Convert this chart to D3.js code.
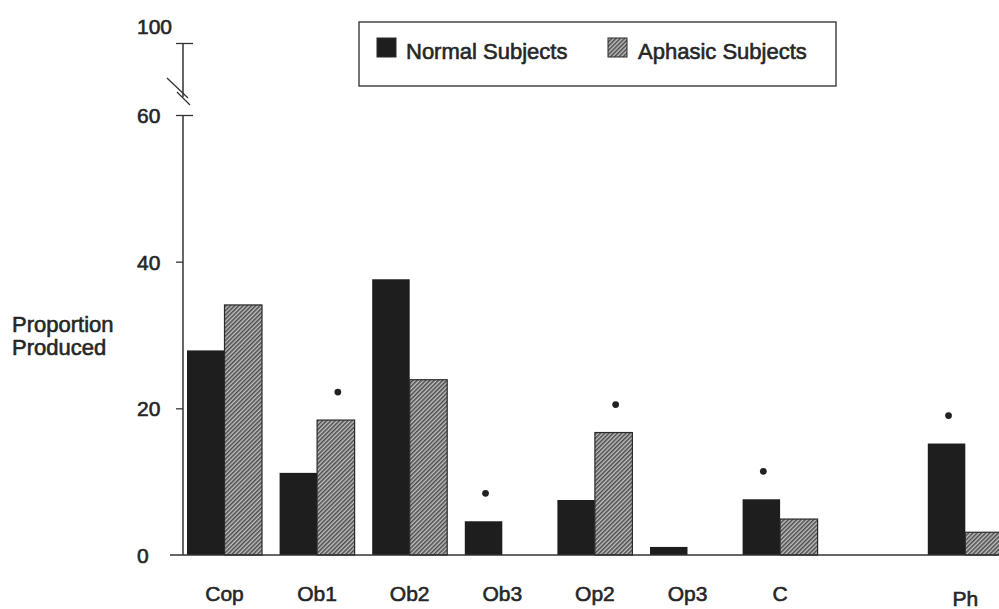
<!DOCTYPE html>
<html>
<head>
<meta charset="utf-8">
<script src="https://cdn.jsdelivr.net/npm/d3@7"></script>
<style>
  html, body { margin: 0; padding: 0; background: #fff; }
  svg { display: block; }
  text { font-family: "Liberation Sans", Arial, Helvetica, sans-serif; fill: #262626; stroke: #262626; stroke-width: 0.6px; }
</style>
</head>
<body>
<svg id="chart" width="999" height="609"></svg>
<script>
// Sentence-structure categories and proportions produced (percent)
const categories = ["Cop", "Ob1", "Ob2", "Ob3", "Op2", "Op3", "C", "Ph"];
const normalValues = [27.9, 11.2, 37.6, 4.6, 7.5, 1.1, 7.6, 15.2];
const aphasicValues = [34.1, 18.4, 23.9, 0, 16.7, 0, 4.9, 3.1];
const significant = [false, true, false, true, true, false, true, true];
const seriesNames = ["Normal Subjects", "Aphasic Subjects"];
const yTickValues = [0, 20, 40, 60, 100];

const svg = d3.select("#chart");
const W = 999, H = 609;

// Hatched fill for the aphasic series
const defs = svg.append("defs");
const pat = defs.append("pattern")
  .attr("id", "hatch")
  .attr("patternUnits", "userSpaceOnUse")
  .attr("width", 3).attr("height", 3)
  .attr("patternTransform", "rotate(45)");
pat.append("rect").attr("width", 3).attr("height", 3).attr("fill", "#c2c2c2");
pat.append("line").attr("x1", 0.8).attr("y1", 0).attr("x2", 0.8).attr("y2", 3)
  .attr("stroke", "#3e3e3e").attr("stroke-width", 1.4);

// Broken y scale: 0–60 linear, then a compressed jump up to 100
const y = d3.scaleLinear().domain([0, 60, 100]).range([555, 115, 43]);

// Category slots with an empty slot before the last group
const gapKey = "__gap__";
const slots = categories.slice(0, 7).concat([gapKey], categories.slice(7));
const x = d3.scaleBand().domain(slots)
  .range([178.2, 1011.6]).paddingInner(0.19).paddingOuter(0.095);
const xs = d3.scaleBand().domain(["normal", "aphasic"]).range([0, x.bandwidth()]);

const rows = categories.map((c, i) => ({
  cat: c, normal: normalValues[i], aphasic: aphasicValues[i], sig: significant[i]
}));

// Bars
const groups = svg.append("g").selectAll("g").data(rows).join("g")
  .attr("transform", d => `translate(${x(d.cat)},0)`);

groups.append("rect")
  .attr("x", xs("normal")).attr("width", xs.bandwidth())
  .attr("y", d => y(d.normal)).attr("height", d => y(0) - y(d.normal))
  .attr("fill", "#1e1e1e");

groups.filter(d => d.aphasic > 0).append("rect")
  .attr("x", xs("aphasic")).attr("width", xs.bandwidth())
  .attr("y", d => y(d.aphasic)).attr("height", d => y(0) - y(d.aphasic))
  .attr("fill", "url(#hatch)")
  .attr("stroke", "#2a2a2a").attr("stroke-width", 1.2);

// Significance markers above the taller bar of each marked pair
groups.filter(d => d.sig).append("path")
  .attr("d", d3.symbol(d3.symbolCircle, 36))
  .attr("fill", "#222")
  .attr("transform", d => {
    const key = d.aphasic > d.normal ? "aphasic" : "normal";
    const v = Math.max(d.normal, d.aphasic);
    return `translate(${xs(key) + xs.bandwidth() / 2 + 2},${y(v) - 28})`;
  });

// Baseline
svg.append("line")
  .attr("x1", 170).attr("x2", W).attr("y1", y(0)).attr("y2", y(0))
  .attr("stroke", "#333").attr("stroke-width", 1.5);

// Y axis
const axisX = 183;
const yAxis = svg.append("g").attr("transform", `translate(${axisX},0)`)
  .call(d3.axisLeft(y).tickValues(yTickValues).tickSize(7).tickPadding(0));
yAxis.select(".domain").remove();
yAxis.selectAll(".tick line").attr("stroke", "#333").attr("stroke-width", 1.3);
yAxis.selectAll(".tick").filter(d => d === 60 || d === 100).select("line")
  .attr("x1", 10);
yAxis.selectAll(".tick").filter(d => d === 0).select("line").remove();
yAxis.selectAll(".tick text")
  .attr("x", -46).attr("text-anchor", "start")
  .attr("dy", d => d === 100 ? "-0.45em" : "0.36em")
  .style("font-size", "21px");

// Axis line with break marks between 60 and 100
svg.append("line").attr("x1", axisX).attr("x2", axisX).attr("y1", y(100)).attr("y2", 97)
  .attr("stroke", "#333").attr("stroke-width", 1.5);
svg.append("line").attr("x1", axisX).attr("x2", axisX).attr("y1", y(60)).attr("y2", y(0))
  .attr("stroke", "#333").attr("stroke-width", 1.5);
svg.append("line").attr("x1", 167).attr("y1", 78).attr("x2", 188).attr("y2", 98)
  .attr("stroke", "#333").attr("stroke-width", 1.3);
svg.append("line").attr("x1", 177).attr("y1", 92).attr("x2", 190).attr("y2", 105)
  .attr("stroke", "#333").attr("stroke-width", 1.3);

// X axis category labels
const xAxis = svg.append("g").attr("transform", `translate(0,${y(0)})`)
  .call(d3.axisBottom(x).tickValues(categories).tickSize(0));
xAxis.select(".domain").remove();
xAxis.selectAll(".tick text")
  .attr("y", d => d === "Ph" ? 51 : 46).attr("dy", "0")
  .style("font-size", "21px");

// Y axis title
const yTitle = svg.append("text").attr("x", 12).attr("y", 332).style("font-size", "22px");
yTitle.append("tspan").attr("x", 12).text("Proportion");
yTitle.append("tspan").attr("x", 12).attr("dy", 23).text("Produced");

// Legend
const legend = svg.append("g");
legend.append("rect").attr("x", 359).attr("y", 22).attr("width", 477).attr("height", 64)
  .attr("fill", "#fff").attr("stroke", "#3a3a3a").attr("stroke-width", 1.4);
const legendItems = [
  { name: seriesNames[0], fill: "#1e1e1e", sx: 377, tx: 406 },
  { name: seriesNames[1], fill: "url(#hatch)", sx: 608, tx: 638 }
];
const li = legend.selectAll("g.item").data(legendItems).join("g").attr("class", "item");
li.append("rect").attr("x", d => d.sx).attr("y", 38).attr("width", 19).attr("height", 19)
  .attr("fill", d => d.fill).attr("stroke", "#2a2a2a").attr("stroke-width", 1);
li.append("text").attr("x", d => d.tx).attr("y", 59).style("font-size", "22px").text(d => d.name);
</script>
</body>
</html>
